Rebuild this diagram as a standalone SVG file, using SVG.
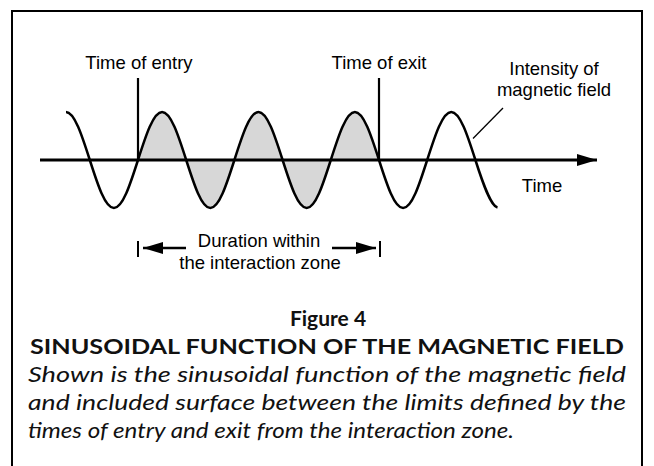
<svg xmlns="http://www.w3.org/2000/svg" width="654" height="466" viewBox="0 0 654 466">
<style>
.lbl{font-family:"Liberation Sans",Arial,sans-serif;font-size:18.5px;fill:#000}
.cap{font-family:Lato,"Open Sans",sans-serif;fill:#111}
.ln{stroke:#000;fill:none}
</style>
<defs>
<marker id="ah" viewBox="0 0 20 12" refX="20" refY="6" markerWidth="20" markerHeight="12" markerUnits="userSpaceOnUse" orient="auto">
<path d="M0,0 L20,6 L0,12 Z" fill="#000"/>
</marker>
</defs>
<rect width="654" height="466" fill="#fff"/>
<rect id="frame" x="12" y="11" width="630" height="480" fill="none" stroke="#000" stroke-width="2"/>

<g id="shade">
<path d="M138,160 C145.86,135.4 153.38,112 162.1,112 C170.82,112 178.34,135.4 186.2,160 C194.06,184.6 201.58,208 210.3,208 C219.02,208 226.54,184.6 234.4,160 C242.26,135.4 249.78,112 258.5,112 C267.22,112 274.74,135.4 282.6,160 C290.46,184.6 297.98,208 306.7,208 C315.42,208 322.94,184.6 330.8,160 C338.66,135.4 346.18,112 354.9,112 C363.62,112 371.14,135.4 379,160 Z" fill="#d7d7d7"/>
</g>

<g id="connectors">
<line class="ln" x1="40" y1="160" x2="597" y2="160" stroke-width="3" marker-end="url(#ah)"/>
<line class="ln" x1="138" y1="78" x2="138" y2="160" stroke-width="2.2"/>
<line class="ln" x1="379" y1="78" x2="379" y2="160" stroke-width="2.2"/>
<line class="ln" x1="503" y1="108" x2="473" y2="138.5" stroke-width="1.3"/>
<line class="ln" x1="138" y1="241" x2="138" y2="257" stroke-width="2"/>
<line class="ln" x1="380" y1="241" x2="380" y2="257" stroke-width="2"/>
<line class="ln" x1="186" y1="248" x2="143" y2="248" stroke-width="2.5" marker-end="url(#ah)"/>
<line class="ln" x1="332" y1="248" x2="376" y2="248" stroke-width="2.5" marker-end="url(#ah)"/>
</g>

<g id="wave">
<path class="ln" stroke-width="2.5" d="M66,112 C74.42,112 81.94,135.4 89.8,160 C97.66,184.6 105.18,208 113.9,208 C122.62,208 130.14,184.6 138,160 C145.86,135.4 153.38,112 162.1,112 C170.82,112 178.34,135.4 186.2,160 C194.06,184.6 201.58,208 210.3,208 C219.02,208 226.54,184.6 234.4,160 C242.26,135.4 249.78,112 258.5,112 C267.22,112 274.74,135.4 282.6,160 C290.46,184.6 297.98,208 306.7,208 C315.42,208 322.94,184.6 330.8,160 C338.66,135.4 346.18,112 354.9,112 C363.62,112 371.14,135.4 379,160 C386.86,184.6 394.38,208 403.1,208 C411.82,208 419.34,184.6 427.2,160 C435.06,135.4 442.58,112 451.3,112 C460.02,112 467.54,135.4 475.4,160 C483.26,184.6 490.78,206 497.5,207.5"/>
</g>

<g id="label-entry"><text class="lbl" x="139" y="69" text-anchor="middle">Time of entry</text></g>
<g id="label-exit"><text class="lbl" x="379" y="69" text-anchor="middle">Time of exit</text></g>
<g id="label-intensity">
<text class="lbl" x="554" y="75" text-anchor="middle">Intensity of</text>
<text class="lbl" x="554" y="96" text-anchor="middle">magnetic field</text>
</g>
<g id="label-time"><text class="lbl" x="542" y="192" text-anchor="middle">Time</text></g>
<g id="label-duration">
<text class="lbl" x="259" y="247" text-anchor="middle">Duration within</text>
<text class="lbl" x="260" y="269" text-anchor="middle">the interaction zone</text>
</g>

<g id="caption">
<text class="cap" x="328" y="326" text-anchor="middle" font-size="21" font-weight="bold">Figure 4</text>
<text class="cap" x="327" y="354" text-anchor="middle" font-size="21" font-weight="bold" textLength="594" lengthAdjust="spacingAndGlyphs">SINUSOIDAL FUNCTION OF THE MAGNETIC FIELD</text>
<text class="cap" x="28" y="382" font-size="21" font-style="italic" textLength="598" lengthAdjust="spacingAndGlyphs">Shown is the sinusoidal function of the magnetic field</text>
<text class="cap" x="28" y="410" font-size="21" font-style="italic" textLength="598" lengthAdjust="spacingAndGlyphs">and included surface between the limits defined by the</text>
<text class="cap" x="28" y="438" font-size="21" font-style="italic" textLength="486" lengthAdjust="spacingAndGlyphs">times of entry and exit from the interaction zone.</text>
</g>
</svg>
